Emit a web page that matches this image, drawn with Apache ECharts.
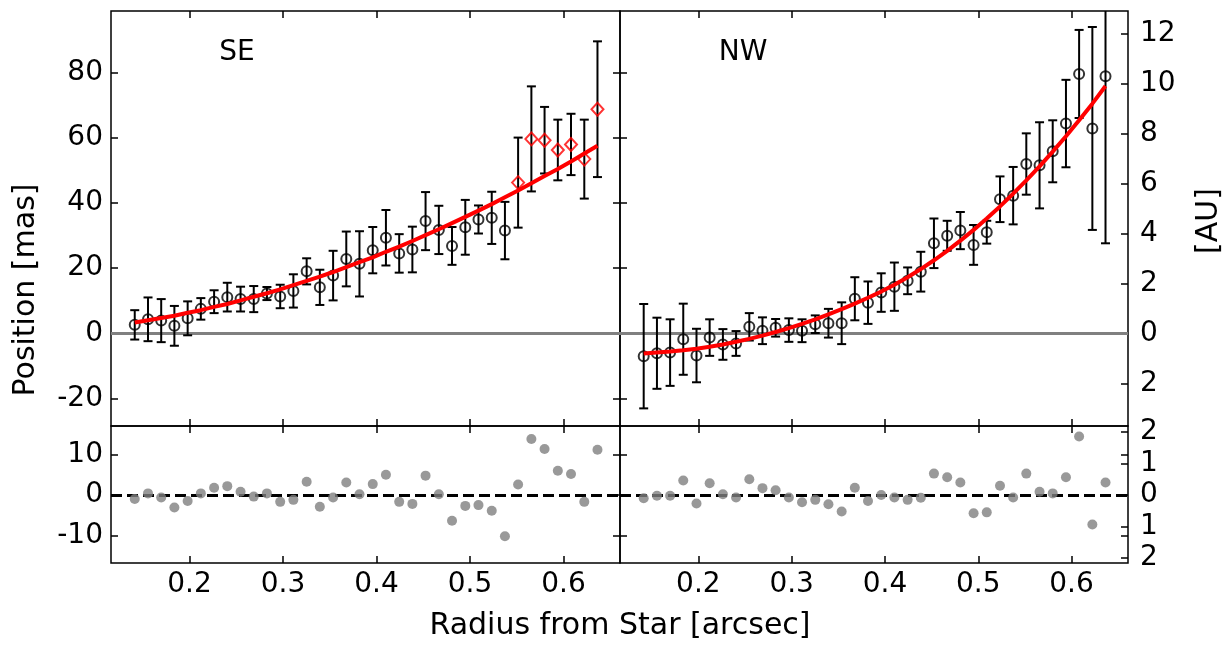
<!DOCTYPE html>
<html>
<head>
<meta charset="utf-8">
<script src="https://cdn.jsdelivr.net/npm/echarts@6/dist/echarts.min.js"></script>
<style>
html,body{margin:0;padding:0;background:#fff;}
#chart{width:1225px;height:645px;}
</style>
</head>
<body>
<div id="chart"></div>
<script>
// ---- data ----
const radius = [0.1414,0.1556,0.1697,0.1838,0.1980,0.2121,0.2263,0.2404,0.2546,0.2687,0.2828,0.2970,0.3111,0.3253,0.3394,0.3536,0.3677,0.3818,0.3960,0.4101,0.4243,0.4384,0.4525,0.4667,0.4808,0.4950,0.5091,0.5233,0.5374,0.5515,0.5657,0.5798,0.5940,0.6081,0.6223,0.6364];

const seY   = [2.6,4.3,3.9,2.3,4.6,7.5,9.7,11.1,10.5,10.5,12.2,11.3,13.0,19.0,14.1,17.7,22.8,21.3,25.5,29.3,24.5,25.7,34.4,31.7,26.8,32.5,34.9,35.4,31.5,46.2,59.6,59.2,56.2,57.9,53.4,68.7];
const seErr = [4.5,6.7,6.6,6.1,5.2,3.3,3.5,4.4,3.8,4.0,2.0,3.6,5.1,4.0,5.4,7.6,8.4,10.0,7.1,8.5,5.9,7.0,8.9,7.4,5.8,8.4,4.3,8.0,8.8,13.8,16.1,10.2,9.3,9.4,12.1,20.8];
const seMarker = ['o','o','o','o','o','o','o','o','o','o','o','o','o','o','o','o','o','o','o','o','o','o','o','o','o','o','o','o','o','D','D','D','D','D','D','D'];
const seFit = [3.3,4.0,4.7,5.4,6.3,7.1,8.1,9.0,10.1,11.2,12.3,13.5,14.8,16.1,17.4,18.8,20.3,21.8,23.3,25.0,26.6,28.3,30.1,31.9,33.8,35.7,37.6,39.6,41.7,43.8,46.0,48.2,50.4,52.7,55.1,57.5];
const seRes = [-1.0,0.4,-0.6,-3.1,-1.5,0.4,1.8,2.2,0.8,-0.4,0.4,-1.7,-1.2,3.3,-2.9,-0.6,3.1,0.2,2.7,5.0,-1.7,-2.2,4.8,0.2,-6.4,-2.7,-2.5,-3.9,-10.2,2.6,13.9,11.4,6.0,5.2,-1.7,11.2];

const nwY   = [-7.0,-6.1,-5.9,-1.8,-6.8,-1.3,-3.4,-3.1,2.0,0.8,1.7,1.0,0.8,2.8,3.1,3.1,10.6,9.4,12.5,14.3,16.1,18.9,27.6,29.9,31.5,27.1,31.0,41.1,42.2,51.9,51.5,55.8,64.3,79.5,62.8,78.8];
const nwErr = [16.0,10.9,10.2,10.9,8.2,5.6,4.7,3.8,4.2,4.1,2.7,3.6,3.5,2.7,4.4,6.4,6.6,6.5,5.9,7.4,4.1,6.1,7.6,4.6,5.7,6.1,3.5,7.0,8.8,9.4,13.2,9.5,13.4,13.5,31.1,51.2];
const nwFit = [-6.2,-5.9,-5.6,-5.2,-4.7,-4.1,-3.4,-2.6,-1.7,-0.7,0.4,1.6,2.9,4.3,5.8,7.4,9.1,10.9,12.8,14.9,17.2,19.7,22.4,25.3,28.4,31.7,35.2,38.9,42.8,46.9,51.2,55.7,60.4,65.3,70.4,75.8];
const nwRes = [-0.8,-0.2,-0.2,3.6,-2.1,2.9,0.2,-0.6,3.9,1.7,1.2,-0.6,-1.8,-1.2,-2.3,-4.1,1.8,-1.5,0.0,-0.6,-1.2,-0.7,5.3,4.4,3.1,-4.5,-4.3,2.3,-0.6,5.3,0.8,0.4,4.4,14.5,-7.3,3.1];

const xTicks = [0.2,0.3,0.4,0.5,0.6];
const posTicks = [-20,0,20,40,60,80];
const auTicks = [-2,0,2,4,6,8,10,12];
const resTicks = [-10,0,10];
const resAuTicks = [-2,-1,0,1,2];

// axis ranges / scale conversions
const xMin = 0.1160, xMax = 0.6605;
const posMin = -28.4, posMax = 98.8;
const resMin = -16.85, resMax = 17.1;
const masPerAU = 7.66, masPerAUres = 7.82;

// ---- chart ----
const FONT = 'DejaVu Sans';
const chart = echarts.init(document.getElementById('chart'), null, {renderer:'canvas'});

const grids = [
  {left:111, top:11, width:509, height:415},
  {left:620, top:11, width:508, height:415},
  {left:111, top:426, width:509, height:137},
  {left:620, top:426, width:508, height:137}
].map(g => Object.assign(g, {show:true, borderColor:'#000', borderWidth:1.5, backgroundColor:'transparent', containLabel:false}));

function xAx(gi, pos, labels){
  return {
    type:'value', gridIndex:gi, position:pos, min:xMin, max:xMax,
    axisLine:{show:false, onZero:false},
    axisTick:{show:true, inside:true, length:7, lineStyle:{color:'#000', width:1.5}, customValues:xTicks},
    axisLabel:{show:labels, customValues:xTicks, color:'#000', fontFamily:FONT, fontSize:28, margin:8,
      formatter: v => v.toFixed(1)},
    splitLine:{show:false}
  };
}
function yAx(gi, pos, min, max, ticks, labels, fmt, margin){
  return {
    type:'value', gridIndex:gi, position:pos, min:min, max:max,
    axisLine:{show:false, onZero:false},
    axisTick:{show:true, inside:true, length:7, lineStyle:{color:'#000', width:1.5}, customValues:ticks},
    axisLabel:{show:labels, customValues:ticks, color:'#000', fontFamily:FONT, fontSize:28, margin:margin||8,
      formatter: fmt || (v => String(v))},
    splitLine:{show:false}
  };
}
const absFmt = v => String(Math.abs(Math.round(v)));

const xAxis = [
  xAx(0,'bottom',false), xAx(0,'top',false),
  xAx(1,'bottom',false), xAx(1,'top',false),
  xAx(2,'bottom',true),  xAx(2,'top',false),
  xAx(3,'bottom',true),  xAx(3,'top',false)
];
const yAxis = [
  yAx(0,'left',posMin,posMax,posTicks,true),                       //0
  yAx(0,'right',posMin,posMax,posTicks,false),                     //1
  yAx(1,'left',posMin,posMax,posTicks,false),                      //2
  yAx(1,'right',posMin/masPerAU,posMax/masPerAU,auTicks,true,absFmt,12), //3
  yAx(2,'left',resMin,resMax,resTicks,true),                       //4
  yAx(2,'right',resMin,resMax,resTicks,false),                     //5
  yAx(3,'left',resMin,resMax,resTicks,false),                      //6
  yAx(3,'right',resMin/masPerAUres,resMax/masPerAUres,resAuTicks,true,absFmt,12), //7
  yAx(3,'right',resMin,resMax,resTicks,false)                      //8
];

function errRender(params, api){
  const x = api.value(0), lo = api.value(1), hi = api.value(2);
  const p1 = api.coord([x, hi]), p2 = api.coord([x, lo]);
  const hw = 4.5;
  const st = {stroke:'#000', lineWidth:2};
  return {type:'group', children:[
    {type:'line', shape:{x1:p1[0],y1:p1[1],x2:p2[0],y2:p2[1]}, style:st},
    {type:'line', shape:{x1:p1[0]-hw,y1:p1[1],x2:p1[0]+hw,y2:p1[1]}, style:st},
    {type:'line', shape:{x1:p2[0]-hw,y1:p2[1],x2:p2[0]+hw,y2:p2[1]}, style:st}
  ]};
}

function panelSeries(xi, yi, ys, errs, fit, markers){
  const errData = radius.map((r,i)=>[r, ys[i]-errs[i], ys[i]+errs[i]]);
  const circ = [], diam = [];
  radius.forEach((r,i)=>{ (markers && markers[i]==='D' ? diam : circ).push([r, ys[i]]); });
  const s = [
    {type:'custom', xAxisIndex:xi, yAxisIndex:yi, renderItem:errRender, data:errData, clip:true, z:3,
      encode:{x:0, y:[1,2]},
      markLine:{silent:true, symbol:'none', z:1, label:{show:false}, animation:false,
        lineStyle:{color:'#808080', width:3, type:'solid'}, data:[{yAxis:0}]}},
    {type:'scatter', xAxisIndex:xi, yAxisIndex:yi, data:circ, symbol:'circle', symbolSize:10, z:4,
      itemStyle:{color:'rgba(0,0,0,0)', borderColor:'#000', borderWidth:2}},
    {type:'line', xAxisIndex:xi, yAxisIndex:yi, data:radius.map((r,i)=>[r, fit[i]]), showSymbol:false, z:5,
      lineStyle:{color:'#ff0000', width:4}, smooth:false}
  ];
  if (diam.length) s.push({type:'scatter', xAxisIndex:xi, yAxisIndex:yi, data:diam, symbol:'diamond', symbolSize:[12,13], z:6,
      itemStyle:{color:'rgba(0,0,0,0)', borderColor:'#ff0000', borderWidth:2}});
  return s;
}
function resSeries(xi, yi, res){
  return {type:'scatter', xAxisIndex:xi, yAxisIndex:yi, data:radius.map((r,i)=>[r,res[i]]),
    symbol:'circle', symbolSize:10, z:4, itemStyle:{color:'#808080'},
    markLine:{silent:true, symbol:'none', z:1, label:{show:false}, animation:false,
      lineStyle:{color:'#000', width:3, type:[11,5]}, data:[{yAxis:0}]}};
}

const series = [].concat(
  panelSeries(0, 0, seY, seErr, seFit, seMarker),
  panelSeries(2, 2, nwY, nwErr, nwFit, null),
  [resSeries(4, 4, seRes), resSeries(6, 6, nwRes)]
);

const txt = (t, x, y, rot, size) => ({type:'text', x:x, y:y, rotation:rot||0, z:100,
  style:{text:t, fill:'#000', font:(size||28)+'px "DejaVu Sans"', align:'center', verticalAlign:'middle'}});

chart.setOption({
  animation:false,
  backgroundColor:'#fff',
  grid:grids, xAxis:xAxis, yAxis:yAxis, series:series,
  graphic:[
    txt('SE', 237, 53),
    txt('NW', 743, 53),
    txt('Position [mas]', 26, 290, Math.PI/2, 30),
    txt('Radius from Star [arcsec]', 620, 626, 0, 30),
    txt('[AU]', 1209, 221, Math.PI/2, 30)
  ]
});
</script>
</body>
</html>
